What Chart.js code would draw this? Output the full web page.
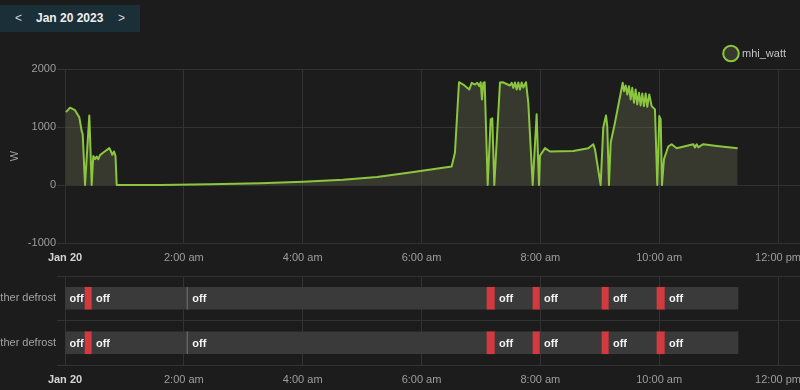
<!DOCTYPE html>
<html><head><meta charset="utf-8">
<script src="https://cdn.jsdelivr.net/npm/chart.js@4.4.0/dist/chart.umd.min.js"></script>
<style>
html,body{margin:0;padding:0;background:#1c1c1c;width:800px;height:390px;overflow:hidden;position:relative;}
#hdr{position:absolute;left:0;top:5px;width:140px;height:27px;background:#1a2f38;color:#eeeeee;font:bold 12px 'Liberation Sans',Arial,sans-serif;}
#hdr span{position:absolute;top:0;line-height:27px;}
canvas{position:absolute;left:0;}
</style></head><body>
<canvas id="c1" width="900" height="267" style="top:0"></canvas>
<canvas id="c2" width="900" height="122" style="top:267px"></canvas>
<div id="hdr"><span style="left:15px;font-weight:normal;color:#cfd8dc">&lt;</span><span style="left:36px">Jan 20 2023</span><span style="left:118px;font-weight:normal;color:#cfd8dc">&gt;</span></div>
<script>
// x axis (hours after midnight, Jan 20 2023)
const tickHours = [0, 2, 4, 6, 8, 10, 12];
const tickLabels = ['Jan 20', '2:00 am', '4:00 am', '6:00 am', '8:00 am', '10:00 am', '12:00 pm'];
const xMax = 12.37;

// mhi_watt series
const powerTimes = [0.017,0.084,0.168,0.241,0.281,0.298,0.337,0.409,0.449,0.476,0.505,0.533,0.560,0.589,0.645,0.746,0.769,0.796,0.825,0.850,0.870,
  1.599,2.440,3.282,4.005,4.679,5.251,5.806,6.508,
  6.563,6.631,6.703,6.804,6.845,6.900,6.939,6.973,6.996,7.018,7.040,7.063,7.114,7.164,7.191,7.225,
  7.321,7.366,7.489,7.518,7.545,7.573,7.602,7.629,7.657,7.686,7.713,7.758,7.797,7.871,7.938,7.977,
  7.994,8.078,8.162,8.554,8.807,8.891,8.919,9.015,9.059,9.105,9.126,9.155,9.184,9.256,
  9.386,9.408,9.436,9.463,9.492,9.520,9.547,9.576,9.604,9.631,9.660,9.688,9.715,9.744,9.773,9.800,9.833,9.874,9.929,9.968,
  10.002,10.025,10.047,10.081,10.153,10.210,10.294,10.574,10.602,10.631,10.658,10.742,10.968,11.321];
const powerWatts = [1257,1333,1290,1166,930,875,0,1200,0,500,446,490,446,515,560,635,590,520,578,500,0,
  0,15,30,55,90,137,217,320,
  560,1772,1732,1646,1762,1732,1762,1704,1772,1475,1762,1772,0,1132,1150,0,
  1766,1772,1715,1762,1675,1766,1646,1766,1646,1766,1680,1772,1418,0,1218,0,
  503,635,578,588,635,703,617,0,990,1200,1017,0,732,1075,
  1762,1618,1715,1561,1704,1475,1675,1418,1646,1389,1589,1372,1578,1360,1578,1349,1561,1360,1304,0,
  1189,1132,0,446,663,703,635,703,647,703,650,703,674,635];

// timeline rows
const rowLabels = ['MHI weather defrost', 'MHI other defrost'];
const segStart = [0, 0.337, 0.454, 2.053, 2.075, 7.102, 7.237, 7.876, 7.994, 9.038, 9.155, 9.963, 10.098];
const segEnd   = [0.337, 0.454, 2.053, 2.075, 7.102, 7.237, 7.876, 7.994, 9.038, 9.155, 9.963, 10.098, 11.326];
const row1States = ['off','on','off','unavailable','off','on','off','on','off','on','off','on','off'];
const row2States = ['off','on','off','unavailable','off','on','off','on','off','on','off','on','off'];
const stateColors = {off: '#3a3a3a', on: '#d23a3f', unavailable: '#666666'};

Chart.defaults.font.family = "'Liberation Sans', Arial, sans-serif";
Chart.defaults.font.size = 11;
Chart.defaults.color = '#9e9e9e';
const gridColor = '#323232';

function xScale() {
  return {
    type: 'linear', min: 0, max: xMax,
    afterBuildTicks: s => { s.ticks = tickHours.map(v => ({value: v})); },
    afterFit: s => { s.height = 24; },
    grid: {color: gridColor, drawTicks: false},
    border: {color: gridColor},
    ticks: {
      padding: 8, maxRotation: 0, autoSkip: false,
      callback: v => tickLabels[tickHours.indexOf(v)],
      color: c => (c.tick && c.tick.value === 0) ? '#d4d4d4' : '#9e9e9e',
      font: c => (c.tick && c.tick.value === 0) ? {weight: 'bold'} : {weight: 'normal'}
    }
  };
}

new Chart(document.getElementById('c1'), {
  type: 'line',
  data: {datasets: [{
    label: 'mhi_watt',
    data: powerTimes.map((t, i) => ({x: t, y: powerWatts[i]})),
    borderColor: '#8cc63f', backgroundColor: 'rgba(120,122,90,0.3)',
    borderWidth: 2, borderJoinStyle: 'round', fill: 'origin', pointRadius: 0, tension: 0
  }]},
  options: {
    responsive: false, animation: false,
    layout: {padding: {top: 34, right: 100, left: 0, bottom: 0}},
    plugins: {
      legend: {position: 'top', align: 'end', labels: {usePointStyle: true, pointStyle: 'circle', color: '#c4c4c4', padding: 14}},
      tooltip: {enabled: false}
    },
    scales: {
      x: xScale(),
      y: {
        min: -1000, max: 2000,
        afterFit: s => { s.width = 65; },
        ticks: {stepSize: 1000, padding: 1, callback: v => String(v)},
        grid: {color: gridColor, tickLength: 8},
        border: {color: gridColor},
        title: {display: true, text: 'W', color: '#9e9e9e', padding: {top: 8, bottom: 0}}
      }
    }
  }
});

const labelPlugin = {
  id: 'segLabels',
  afterDatasetsDraw(chart) {
    const ctx = chart.ctx;
    ctx.save();
    ctx.font = "bold 11px 'Liberation Sans', Arial, sans-serif";
    ctx.fillStyle = '#f2f2f2';
    ctx.textBaseline = 'middle';
    ctx.textAlign = 'left';
    chart.data.datasets.forEach((ds, di) => {
      chart.getDatasetMeta(di).data.forEach((el, i) => {
        const st = ds.data[i].s;
        if (st === 'unavailable') return;
        const p = el.getProps(['x', 'base', 'y'], true);
        const l = Math.min(p.x, p.base), w = Math.abs(p.x - p.base);
        if (w >= ctx.measureText(st).width + 4) ctx.fillText(st, l + 4, p.y + 1);
      });
    });
    ctx.restore();
  }
};

function rowData(states, row) {
  return states.map((s, i) => ({x: [segStart[i], segEnd[i]], y: rowLabels[row], s: s}));
}

new Chart(document.getElementById('c2'), {
  type: 'bar',
  data: {labels: rowLabels, datasets: [
    {label: rowLabels[0], data: rowData(row1States, 0), backgroundColor: row1States.map(s => stateColors[s]),
     borderWidth: 0, barThickness: 22, grouped: false},
    {label: rowLabels[1], data: rowData(row2States, 1), backgroundColor: row2States.map(s => stateColors[s]),
     borderWidth: 0, barThickness: 22, grouped: false}
  ]},
  options: {
    indexAxis: 'y', responsive: false, animation: false,
    layout: {padding: {top: 9, right: 100, left: 0, bottom: 0}},
    plugins: {legend: {display: false}, tooltip: {enabled: false}, colors: {enabled: false}},
    scales: {
      x: xScale(),
      y: {
        type: 'category',
        afterFit: s => { s.width = 65; },
        grid: {color: gridColor, tickLength: 8, offset: true},
        border: {color: gridColor},
        ticks: {padding: 1, color: '#a4a4a4'}
      }
    }
  },
  plugins: [labelPlugin]
});
</script>
</body></html>
